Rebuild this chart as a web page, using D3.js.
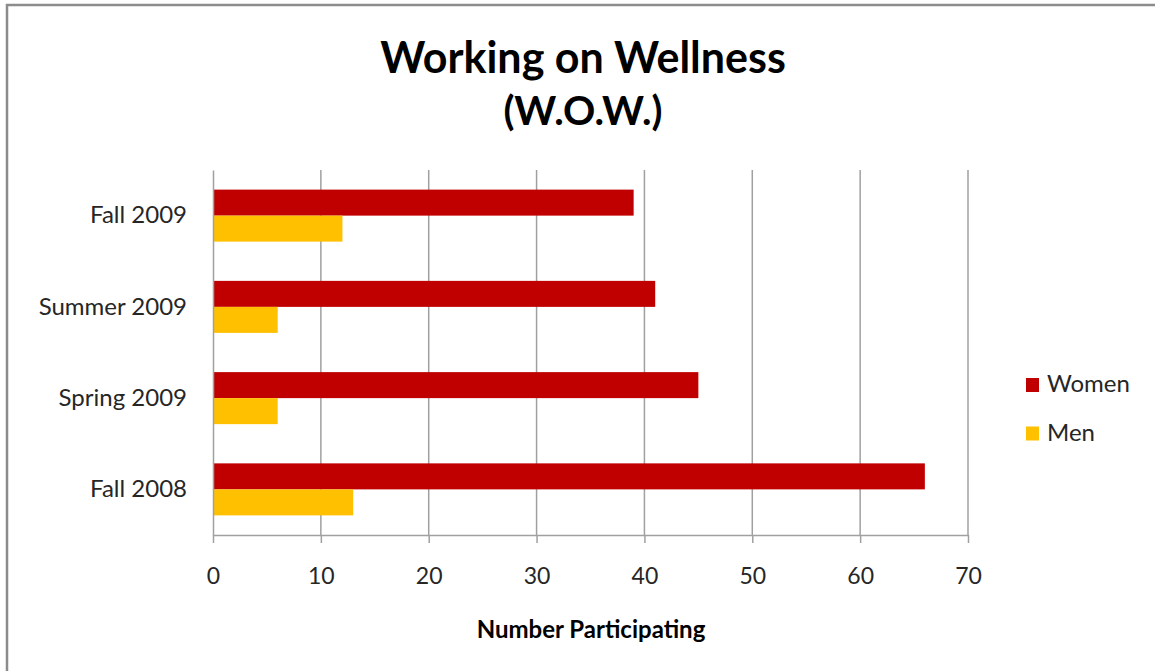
<!DOCTYPE html>
<html>
<head>
<meta charset="utf-8">
<script src="https://cdn.jsdelivr.net/npm/d3@7"></script>
<style>
  body { margin: 0; background: #fff; }
  text { font-family: Lato, "Open Sans", sans-serif; }
</style>
</head>
<body>
<div id="content"></div>
<script>
// data
var categories = ["Fall 2009", "Summer 2009", "Spring 2009", "Fall 2008"];
var seriesNames = ["Women", "Men"];
var women = [39, 41, 45, 66];
var men = [12, 6, 6, 13];
var xTicks = [0, 10, 20, 30, 40, 50, 60, 70];
var colors = ["#c00000", "#ffc000"];

var width = 1155, height = 671;
var plot = {left: 213, right: 968, top: 170, bottom: 535};

var svg = d3.select("#content").append("svg")
    .attr("width", width)
    .attr("height", height);

// chart border (runs off right and bottom edge like the screenshot)
svg.append("rect")
    .attr("x", 7).attr("y", 5)
    .attr("width", 1170).attr("height", 700)
    .attr("fill", "#fff")
    .attr("stroke", "#8c8c8c")
    .attr("stroke-width", 2.5);

var x = d3.scaleLinear()
    .domain([0, 70])
    .range([plot.left, plot.right]);

var y = d3.scaleBand()
    .domain(categories)
    .range([plot.top, plot.bottom])
    .paddingInner(0.43)
    .paddingOuter(0.215);

var ySub = d3.scaleBand()
    .domain(seriesNames)
    .range([0, y.bandwidth()]);

// gridlines
svg.append("g")
  .selectAll("line")
  .data(xTicks.slice(1))
  .enter().append("line")
    .attr("x1", function(d) { return x(d); })
    .attr("x2", function(d) { return x(d); })
    .attr("y1", plot.top)
    .attr("y2", plot.bottom)
    .attr("stroke", "#a0a0a0")
    .attr("stroke-width", 1.5);

// bars
var rows = categories.map(function(c, i) {
  return {cat: c, vals: [{s: "Women", v: women[i]}, {s: "Men", v: men[i]}]};
});

var groups = svg.append("g").selectAll("g")
  .data(rows)
  .enter().append("g")
    .attr("transform", function(d) { return "translate(0," + y(d.cat) + ")"; });

groups.selectAll("rect")
  .data(function(d) { return d.vals; })
  .enter().append("rect")
    .attr("x", x(0))
    .attr("y", function(d) { return ySub(d.s); })
    .attr("width", function(d) { return x(d.v) - x(0); })
    .attr("height", ySub.bandwidth())
    .attr("fill", function(d, i) { return colors[i]; });

// x axis
var xAxis = svg.append("g")
    .attr("transform", "translate(0," + plot.bottom + ")")
    .call(d3.axisBottom(x).tickValues(xTicks).tickSize(8).tickPadding(25).tickSizeOuter(0));
xAxis.select(".domain").attr("stroke", "#a0a0a0").attr("stroke-width", 1.5);
xAxis.selectAll(".tick line").attr("stroke", "#a0a0a0").attr("stroke-width", 1.5);
xAxis.selectAll(".tick text")
    .attr("font-family", "Lato, sans-serif")
    .attr("font-size", 23)
    .attr("fill", "#262626");

// y axis
var yAxis = svg.append("g")
    .attr("transform", "translate(" + plot.left + ",0)")
    .call(d3.axisLeft(y).tickSize(0).tickPadding(26).tickSizeOuter(0));
yAxis.select(".domain").attr("stroke", "#a0a0a0").attr("stroke-width", 1.5);
yAxis.selectAll(".tick text")
    .attr("font-family", "Lato, sans-serif")
    .attr("font-size", 24)
    .attr("fill", "#262626");

// titles
svg.append("text")
    .attr("x", 583).attr("y", 73)
    .attr("text-anchor", "middle")
    .attr("font-size", 43)
    .attr("font-weight", "bold")
    .attr("fill", "#000")
    .text("Working on Wellness");

svg.append("text")
    .attr("x", 583).attr("y", 125)
    .attr("text-anchor", "middle")
    .attr("font-size", 40)
    .attr("font-weight", "bold")
    .attr("fill", "#000")
    .text("(W.O.W.)");

svg.append("text")
    .attr("x", 591).attr("y", 638)
    .attr("text-anchor", "middle")
    .attr("font-size", 24)
    .attr("font-weight", "bold")
    .attr("fill", "#000")
    .text("Number Participating");

// legend
var legend = svg.append("g").selectAll("g")
  .data(seriesNames)
  .enter().append("g")
    .attr("transform", function(d, i) { return "translate(1026," + (378 + i * 48.5) + ")"; });

legend.append("rect")
    .attr("width", 13).attr("height", 14)
    .attr("fill", function(d, i) { return colors[i]; });

legend.append("text")
    .attr("x", 21).attr("y", 14)
    .attr("font-size", 24)
    .attr("fill", "#262626")
    .text(function(d) { return d; });
</script>
</body>
</html>
